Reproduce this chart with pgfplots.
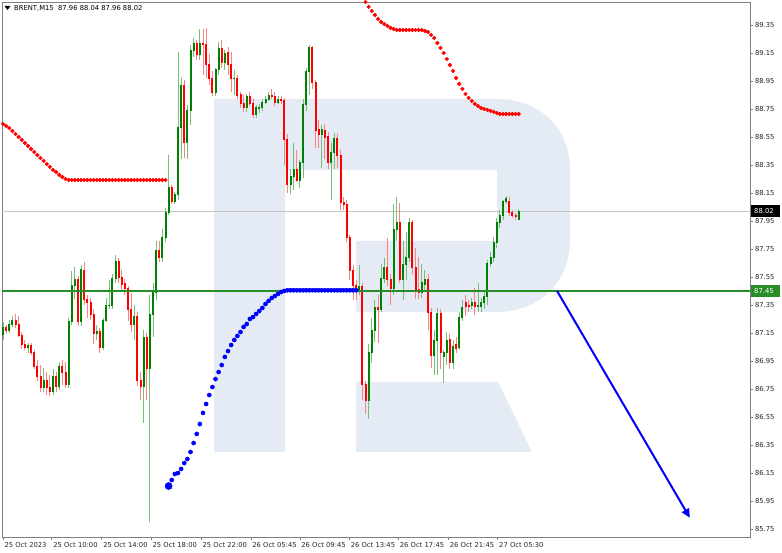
\documentclass[border=0pt]{standalone}
\usepackage{pgfplots}
\pgfplotsset{compat=1.18}
\usepackage{pgfplotstable}
\usepackage{fontspec}
\setmainfont{DejaVu Sans}
\usetikzlibrary{arrows.meta}
\definecolor{upc}{RGB}{0,128,0}
\definecolor{dnc}{RGB}{255,0,0}
\definecolor{upw}{RGB}{120,190,120}
\definecolor{dnw}{RGB}{255,130,130}
\definecolor{wm}{RGB}{229,235,244}
\definecolor{lvl}{RGB}{40,140,40}
\definecolor{frm}{RGB}{128,128,128}

\pgfplotstableread{
x o h l c
0 87.14 87.23 87.10 87.19
1 87.19 87.21 87.14 87.17
2 87.17 87.24 87.15 87.21
3 87.21 87.27 87.19 87.24
4 87.24 87.29 87.19 87.21
5 87.21 87.27 87.12 87.13
6 87.13 87.16 87.04 87.07
7 87.07 87.10 87.03 87.05
8 87.05 87.08 87.01 87.06
9 87.06 87.08 86.99 87.01
10 87.01 87.03 86.89 86.91
11 86.91 86.96 86.81 86.84
12 86.84 86.92 86.73 86.76
13 86.76 86.90 86.73 86.81
14 86.81 86.87 86.71 86.76
15 86.76 86.85 86.70 86.73
16 86.73 86.89 86.71 86.84
17 86.84 86.87 86.73 86.77
18 86.77 86.94 86.74 86.91
19 86.91 86.96 86.78 86.87
20 86.87 86.94 86.76 86.78
21 86.78 87.26 86.76 87.23
22 87.23 87.59 87.21 87.49
23 87.49 87.62 87.39 87.53
24 87.53 87.56 87.20 87.23
25 87.23 87.64 87.20 87.60
26 87.60 87.66 87.35 87.39
27 87.39 87.42 87.26 87.37
28 87.37 87.40 87.24 87.28
29 87.28 87.32 87.07 87.15
30 87.15 87.21 87.10 87.16
31 87.16 87.19 87.01 87.05
32 87.05 87.26 87.03 87.24
33 87.24 87.40 87.23 87.35
34 87.35 87.53 87.32 87.35
35 87.35 87.57 87.32 87.54
36 87.54 87.71 87.51 87.66
37 87.66 87.69 87.51 87.55
38 87.55 87.60 87.46 87.50
39 87.50 87.54 87.42 87.47
40 87.47 87.49 87.24 87.32
41 87.32 87.44 87.16 87.21
42 87.21 87.35 87.10 87.27
43 87.27 87.30 86.77 86.81
44 86.81 86.87 86.67 86.77
45 86.77 87.17 86.51 87.12
46 87.12 87.15 86.67 86.90
47 86.90 87.42 85.80 87.28
48 87.28 87.51 87.12 87.44
49 87.44 87.81 87.39 87.74
50 87.74 87.81 87.66 87.69
51 87.69 87.89 87.66 87.83
52 87.83 88.04 87.80 88.01
53 88.01 88.42 87.99 88.19
54 88.19 88.21 88.07 88.09
55 88.09 88.16 88.07 88.14
56 88.14 89.16 88.10 88.62
57 88.62 88.97 88.39 88.92
58 88.92 88.96 88.40 88.51
59 88.51 88.78 88.39 88.74
60 88.74 89.21 88.64 89.17
61 89.17 89.26 89.12 89.22
62 89.22 89.24 89.10 89.14
63 89.14 89.32 89.10 89.22
64 89.22 89.32 88.99 89.21
65 89.21 89.33 88.97 89.07
66 89.07 89.14 88.92 88.97
67 88.97 89.02 88.84 88.87
68 88.87 89.04 88.84 89.03
69 89.03 89.23 88.99 89.18
70 89.18 89.24 89.04 89.08
71 89.08 89.17 89.03 89.15
72 89.15 89.19 88.99 89.07
73 89.07 89.16 88.87 88.97
74 88.97 89.03 88.85 88.97
75 88.97 88.99 88.82 88.85
76 88.85 88.87 88.76 88.79
77 88.79 88.85 88.73 88.76
78 88.76 88.86 88.73 88.84
79 88.84 88.87 88.77 88.79
80 88.79 88.82 88.69 88.71
81 88.71 88.78 88.69 88.76
82 88.76 88.79 88.72 88.76
83 88.76 88.82 88.74 88.80
84 88.80 88.84 88.79 88.82
85 88.82 88.87 88.81 88.85
86 88.85 88.89 88.82 88.84
87 88.84 88.87 88.77 88.80
88 88.80 88.84 88.79 88.82
89 88.82 88.84 88.79 88.81
90 88.81 88.83 88.35 88.53
91 88.53 88.57 88.15 88.21
92 88.21 88.32 88.14 88.27
93 88.27 88.51 88.17 88.32
94 88.32 88.46 88.23 88.24
95 88.24 88.39 88.19 88.37
96 88.37 88.82 88.26 88.78
97 88.78 89.04 88.74 89.02
98 89.02 89.21 88.85 89.19
99 89.19 89.20 88.89 88.94
100 88.94 88.96 88.47 88.60
101 88.60 88.67 88.47 88.57
102 88.57 88.64 88.33 88.60
103 88.60 88.64 88.39 88.55
104 88.55 88.59 88.32 88.37
105 88.37 88.51 88.10 88.44
106 88.44 88.58 88.32 88.54
107 88.54 88.57 88.33 88.42
108 88.42 88.46 88.03 88.08
109 88.08 88.12 88.03 88.07
110 88.07 88.10 87.80 87.83
111 87.83 87.85 87.53 87.60
112 87.60 87.64 87.39 87.49
113 87.49 87.53 87.39 87.46
114 87.46 87.64 87.42 87.48
115 87.48 87.51 86.67 86.78
116 86.78 86.81 86.57 86.67
117 86.67 87.07 86.54 87.01
118 87.01 87.26 86.94 87.17
119 87.17 87.39 87.09 87.33
120 87.33 87.42 87.08 87.32
121 87.32 87.64 87.30 87.54
122 87.54 87.69 87.51 87.62
123 87.62 87.83 87.49 87.53
124 87.53 87.57 87.35 87.47
125 87.47 88.07 87.42 87.89
126 87.89 88.12 87.81 87.94
127 87.94 88.08 87.51 87.53
128 87.53 87.81 87.39 87.64
129 87.64 87.87 87.53 87.69
130 87.69 87.97 87.66 87.94
131 87.94 87.96 87.57 87.62
132 87.62 87.76 87.39 87.46
133 87.46 87.69 87.39 87.44
134 87.44 87.64 87.40 87.51
135 87.50 87.60 87.44 87.53
136 87.53 87.57 87.17 87.30
137 87.30 87.33 86.90 86.99
138 86.99 87.17 86.85 87.10
139 87.10 87.33 86.85 87.29
140 87.29 87.32 86.89 87.01
141 86.98 87.03 86.79 87.01
142 87.01 87.16 86.92 87.10
143 87.10 87.14 86.89 86.94
144 86.94 87.10 86.89 87.05
145 87.07 87.12 87.01 87.04
146 87.05 87.30 87.03 87.26
147 87.26 87.39 87.24 87.33
148 87.37 87.42 87.27 87.34
149 87.35 87.39 87.30 87.34
150 87.35 87.40 87.32 87.37
151 87.37 87.47 87.28 87.34
152 87.34 87.51 87.30 87.35
153 87.34 87.40 87.30 87.37
154 87.37 87.44 87.32 87.41
155 87.41 87.67 87.35 87.65
156 87.65 87.73 87.62 87.69
157 87.69 87.84 87.66 87.80
158 87.80 87.97 87.76 87.94
159 87.94 88.03 87.90 87.99
160 87.99 88.10 87.96 88.09
161 88.09 88.13 88.07 88.11
162 88.09 88.12 87.99 88.01
163 88.01 88.03 87.97 87.99
164 87.99 88.01 87.96 87.98
165 87.96 88.04 87.96 88.02
}\candles

\pgfplotstableread{
x y
-1 88.657
0 88.643
1 88.629
2 88.614
3 88.593
4 88.571
5 88.550
6 88.529
7 88.507
8 88.486
9 88.464
10 88.443
11 88.421
12 88.400
13 88.379
14 88.357
15 88.336
16 88.314
17 88.300
18 88.279
19 88.264
20 88.250
21 88.243
22 88.243
23 88.243
24 88.243
25 88.243
26 88.243
27 88.243
28 88.243
29 88.243
30 88.243
31 88.243
32 88.243
33 88.243
34 88.243
35 88.243
36 88.243
37 88.243
38 88.243
39 88.243
40 88.243
41 88.243
42 88.243
43 88.243
44 88.243
45 88.243
46 88.243
47 88.243
48 88.243
49 88.243
50 88.243
51 88.243
52 88.243
}\sarA

\pgfplotstableread{
x y
54 86.100
55 86.143
56 86.150
57 86.179
58 86.221
59 86.250
60 86.300
61 86.364
62 86.429
63 86.500
64 86.579
65 86.643
66 86.707
67 86.764
68 86.821
69 86.871
70 86.921
71 86.979
72 87.021
73 87.064
74 87.100
75 87.129
76 87.157
77 87.193
78 87.214
79 87.250
80 87.264
81 87.286
82 87.307
83 87.329
84 87.357
85 87.379
86 87.400
87 87.414
88 87.429
89 87.443
90 87.450
91 87.455
92 87.455
93 87.455
94 87.455
95 87.455
96 87.455
97 87.455
98 87.455
99 87.455
100 87.455
101 87.455
102 87.455
103 87.455
104 87.455
105 87.455
106 87.455
107 87.455
108 87.455
109 87.455
110 87.455
111 87.455
112 87.455
113 87.455
}\sarB

\pgfplotstableread{
x y
114 89.586
115 89.550
116 89.514
117 89.479
118 89.450
119 89.421
120 89.393
121 89.371
122 89.357
123 89.343
124 89.329
125 89.321
126 89.314
127 89.314
128 89.314
129 89.314
130 89.314
131 89.314
132 89.314
133 89.314
134 89.314
135 89.307
136 89.300
137 89.279
138 89.257
139 89.221
140 89.186
141 89.150
142 89.107
143 89.064
144 89.021
145 88.971
146 88.929
147 88.893
148 88.857
149 88.829
150 88.807
151 88.786
152 88.771
153 88.757
154 88.750
155 88.743
156 88.736
157 88.729
158 88.721
159 88.714
160 88.714
161 88.714
162 88.714
163 88.714
164 88.714
165 88.714
}\sarC

\begin{document}
\begin{tikzpicture}[font=\fontsize{6.8}{8}\selectfont]
\useasboundingbox (0,0) rectangle (782pt,553pt);
% watermark logo
\fill[wm] (214pt,454pt) -- (497pt,454pt) .. controls (540pt,454pt) and (570pt,425pt) .. (570pt,383pt)
  -- (570pt,313pt) .. controls (570pt,272pt) and (540pt,241pt) .. (497pt,241pt)
  -- (356pt,241pt) -- (356pt,312pt) -- (497pt,312pt) -- (497pt,383pt) -- (285pt,383pt)
  -- (285pt,101pt) -- (214pt,101pt) -- cycle;
\fill[wm] (356pt,171pt) -- (498pt,171pt) -- (532pt,101pt) -- (356pt,101pt) -- cycle;
\begin{axis}[
  at={(2pt,16pt)}, anchor=south west,
  scale only axis, width=748pt, height=535pt,
  xmin=-0.32, xmax=239.04, ymin=85.693, ymax=89.514,
  axis line style={frm, line width=0.9pt},
  ytick={85.75,85.95,86.15,86.35,86.55,86.75,86.95,87.15,87.35,87.55,87.75,87.95,88.15,88.35,88.55,88.75,88.95,89.15,89.35},
  ytick pos=right, yticklabel pos=right,
  xtick pos=bottom,
  xtick={0,15.6,31.6,47.4,63.4,79.3,95.0,110.8,126.5,142.5,158.3},
  xticklabels={25 Oct 2023,25 Oct 10:00,25 Oct 14:00,25 Oct 18:00,25 Oct 22:00,26 Oct 05:45,26 Oct 09:45,26 Oct 13:45,26 Oct 17:45,26 Oct 21:45,27 Oct 05:30},
  tick align=outside, major tick length=3pt,
  tick style={frm, line width=0.6pt},
  tick label style={font=\fontsize{6.8}{8}\selectfont, text=black!85},
  /pgf/number format/assume math mode=true,
  yticklabel style={anchor=west, xshift=-1.5pt, /pgf/number format/fixed, /pgf/number format/fixed zerofill, /pgf/number format/precision=2},
  xticklabel style={anchor=north west, xshift=-2pt, yshift=1.5pt},
]
% price line
\addplot[gray!45, line width=0.6pt, forget plot] coordinates {(-1,88.02) (240,88.02)};
% wicks
\addplot[draw=none, forget plot, restrict expr to domain={\thisrow{c}-\thisrow{o}}{0:10},
  error bars/.cd, y dir=both, y explicit, error mark=none,
  error bar style={draw=upw, line width=0.9pt}]
  table[x=x, y expr={(\thisrow{h}+\thisrow{l})/2}, y error expr={(\thisrow{h}-\thisrow{l})/2}] {\candles};
\addplot[draw=none, forget plot, restrict expr to domain={\thisrow{c}-\thisrow{o}}{-10:-0.0001},
  error bars/.cd, y dir=both, y explicit, error mark=none,
  error bar style={draw=dnw, line width=0.9pt}]
  table[x=x, y expr={(\thisrow{h}+\thisrow{l})/2}, y error expr={(\thisrow{h}-\thisrow{l})/2}] {\candles};
% bodies
\addplot[draw=none, forget plot, restrict expr to domain={\thisrow{c}-\thisrow{o}}{0:10},
  error bars/.cd, y dir=both, y explicit, error mark=none,
  error bar style={draw=upc, line width=2pt}]
  table[x=x, y expr={(\thisrow{o}+\thisrow{c})/2}, y error expr={abs(\thisrow{c}-\thisrow{o})/2+0.004}] {\candles};
\addplot[draw=none, forget plot, restrict expr to domain={\thisrow{c}-\thisrow{o}}{-10:-0.0001},
  error bars/.cd, y dir=both, y explicit, error mark=none,
  error bar style={draw=dnc, line width=2pt}]
  table[x=x, y expr={(\thisrow{o}+\thisrow{c})/2}, y error expr={abs(\thisrow{c}-\thisrow{o})/2+0.004}] {\candles};
% level line
\addplot[lvl, line width=1.8pt, forget plot] coordinates {(-1,87.45) (240,87.45)};
% SAR dots
\addplot[only marks, mark=*, mark size=1.9pt, color=red, forget plot] table[x=x,y=y] {\sarA};
\addplot[only marks, mark=*, mark size=1.9pt, color=red, forget plot] table[x=x,y=y] {\sarC};
\addplot[only marks, mark=*, mark size=2.1pt, color=blue, forget plot] table[x=x,y=y] {\sarB};
\addplot[only marks, mark=*, mark size=3.6pt, color=blue, forget plot] coordinates {(53,86.057)};
% forecast arrow
\addplot[blue, line width=2pt, -{Triangle[length=9pt,width=8pt]}, forget plot] coordinates {(177.3,87.45) (219.8,85.83)};
\end{axis}
% title
\fill[black] (4.5pt,547pt) -- (10.5pt,547pt) -- (7.5pt,543pt) -- cycle;
\node[anchor=west, inner sep=0pt] at (14pt,545pt) {BRENT,M15\ \ 87.96 88.04 87.96 88.02};
% price tags
\fill[black] (751pt,336pt) rectangle (780pt,348pt);
\node[white, anchor=west, inner sep=0pt] at (754pt,342pt) {88.02};
\fill[lvl] (751pt,256pt) rectangle (780pt,268pt);
\node[white, anchor=west, inner sep=0pt] at (754pt,262pt) {87.45};
\end{tikzpicture}
\end{document}
